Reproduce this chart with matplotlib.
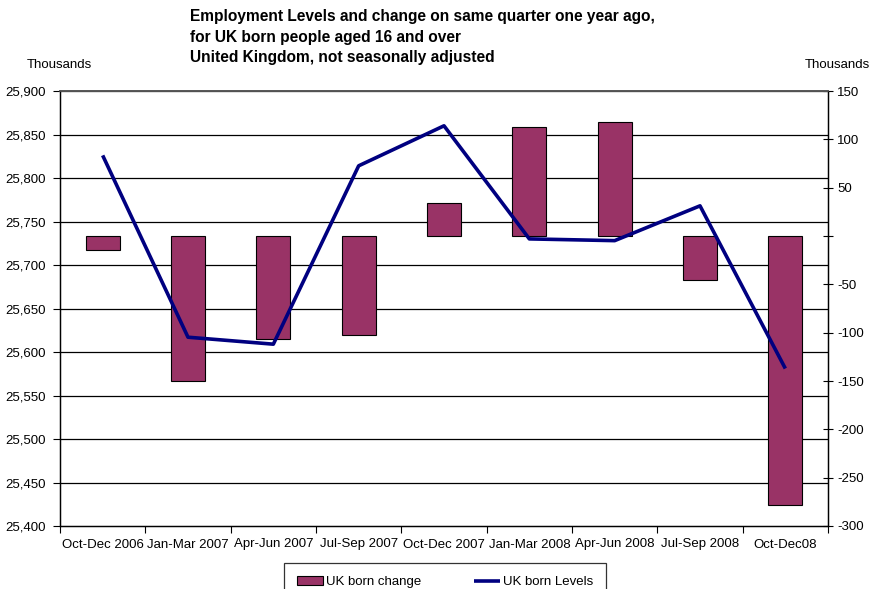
import matplotlib
matplotlib.use("Agg")
import matplotlib.pyplot as plt
from matplotlib.ticker import FuncFormatter, MultipleLocator
import numpy as np

plt.rcParams['font.family'] = ['Liberation Sans', 'DejaVu Sans']

categories = ["Oct-Dec 2006", "Jan-Mar 2007", "Apr-Jun 2007", "Jul-Sep 2007",
              "Oct-Dec 2007", "Jan-Mar 2008", "Apr-Jun 2008", "Jul-Sep 2008",
              "Oct-Dec08"]
change = [-14, -150, -107, -102, 34, 113, 118, -46, -278]
levels = [25826, 25617, 25609, 25814, 25860, 25730, 25728, 25768, 25581]

title_lines = ["Employment Levels and change on same quarter one year ago,",
               "for UK born people aged 16 and over",
               "United Kingdom, not seasonally adjusted"]

fig = plt.figure(figsize=(8.77, 5.89), dpi=100)
ax = fig.add_axes([60/877, 1-526/589, 768/877, 435/589])
ax2 = ax.twinx()

x = np.arange(len(categories))

# Bars on secondary (right) axis
bars = ax2.bar(x, change, width=0.4, color="#993366", edgecolor="black",
               linewidth=0.8, label="UK born change", zorder=2)
ax2.set_ylim(-300, 150)
ax2.yaxis.set_major_locator(MultipleLocator(50))
ax2.yaxis.set_major_formatter(FuncFormatter(lambda v, p: "" if abs(v) < 1e-9 else f"{int(v):,}"))
ax2.tick_params(axis='y', direction='inout', length=7, labelsize=9.5, pad=3, width=0.8)

# Line on primary (left) axis, drawn above bars
ax.set_zorder(ax2.get_zorder() + 1)
ax.patch.set_visible(False)
line, = ax.plot(x, levels, color="#000080", linewidth=2.6, label="UK born Levels",
                solid_capstyle='butt', zorder=3)
ax.set_ylim(25400, 25900)
ax.set_xlim(-0.5, len(categories) - 0.5)
ax.yaxis.set_major_locator(MultipleLocator(50))
ax.yaxis.set_major_formatter(FuncFormatter(lambda v, p: f"{int(round(v)):,}"))
ax.tick_params(axis='y', direction='out', length=5, labelsize=9.5, width=0.8, pad=5)

# Gridlines from left axis (drawn on ax2 behind bars)
for v in np.arange(25450, 25901, 50):
    ax2.axhline((v - 25400) / 500 * 450 - 300, color="black", linewidth=0.9, zorder=1)

# x ticks at category boundaries
ax.set_xticks(np.arange(-0.5, len(categories) + 0.5, 1))
ax.set_xticklabels([])
ax.set_xticks(x, minor=True)
ax.set_xticklabels(categories, minor=True, fontsize=9.5)
ax.tick_params(axis='x', which='major', direction='out', length=5, width=0.8)
ax.tick_params(axis='x', which='minor', length=0, pad=9)

for a in (ax, ax2):
    a.spines['top'].set_color('#555555')
    a.spines['top'].set_linewidth(1.2)
    for s in ('left', 'right', 'bottom'):
        a.spines[s].set_linewidth(0.9)

# Titles and axis unit labels
ty = [1 - 17/589, 1 - 37.5/589, 1 - 57.5/589]
for t, yy in zip(title_lines, ty):
    fig.text(190/877, yy, t, fontsize=11.2, fontweight='bold', ha='left', va='center')
fig.text(27/877, 1 - 65/589, "Thousands", fontsize=9.5, ha='left', va='center')
fig.text(870/877, 1 - 65/589, "Thousands", fontsize=9.5, ha='right', va='center')

leg = fig.legend([bars, line], ["UK born change", "UK born Levels"], ncol=2,
                 loc='upper center', bbox_to_anchor=(445/877, 1 - 563/589),
                 frameon=True, fancybox=False, edgecolor='black', fontsize=9.5,
                 handlelength=2.0, handletextpad=0.2, columnspacing=4.0,
                 borderpad=1.0, borderaxespad=0.0)
leg.get_frame().set_linewidth(0.9)

fig.savefig("out.png", dpi=100)
